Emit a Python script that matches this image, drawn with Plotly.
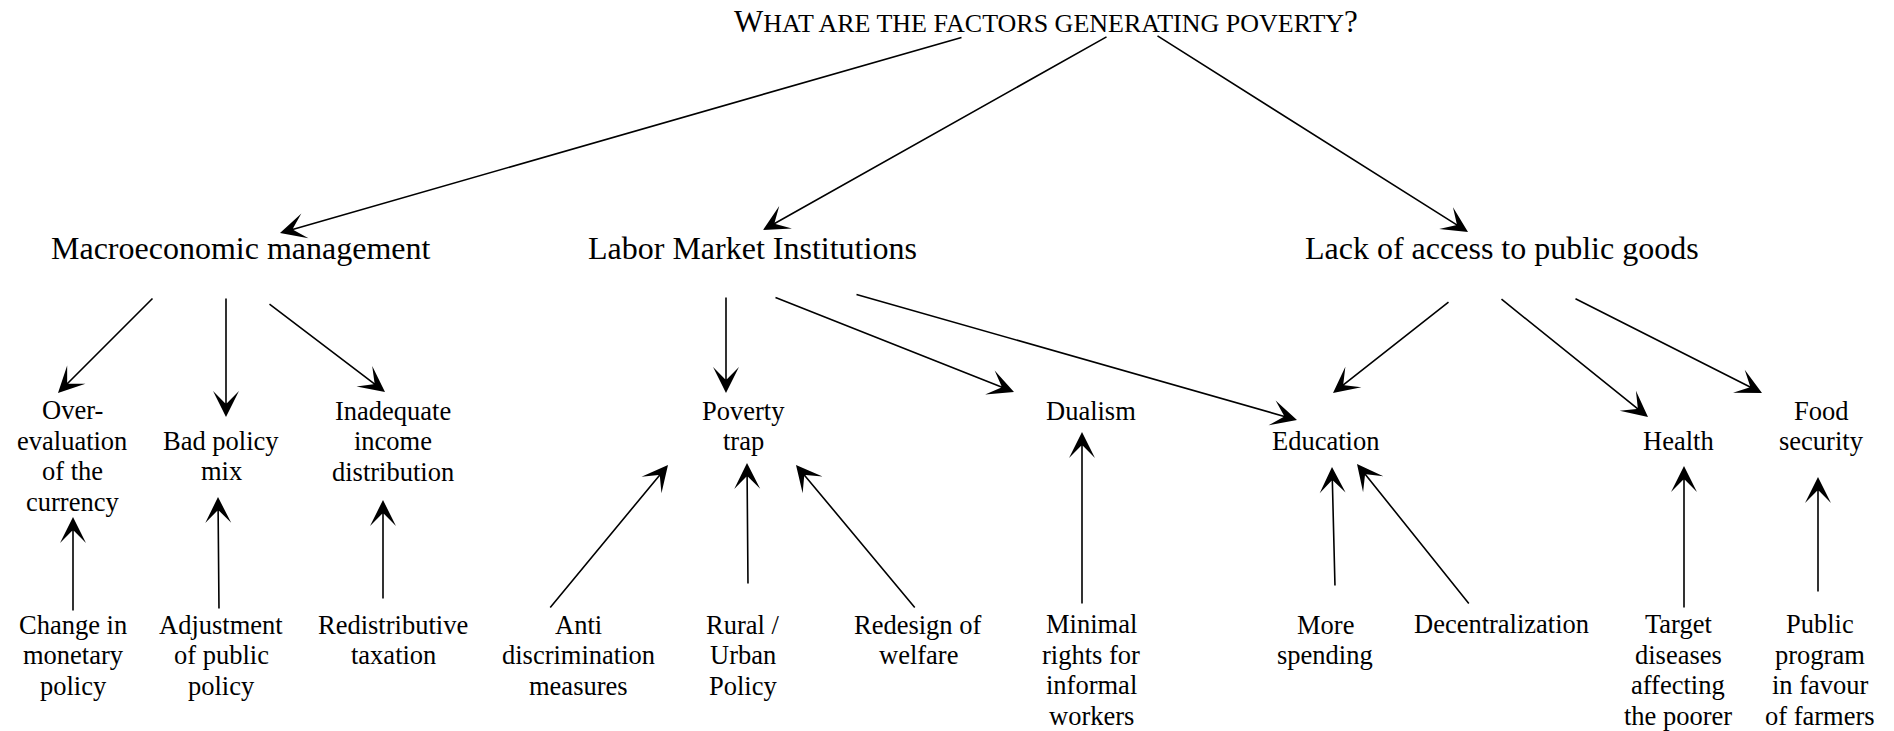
import plotly.graph_objects as go

W, H = 1894, 731

# ---- data: node labels (lines) ----
title_first = "W"
title_rest = "HAT ARE THE FACTORS GENERATING POVERTY"
title_last = "?"

level1_labels = ["Macroeconomic management", "Labor Market Institutions",
                 "Lack of access to public goods"]

level2_labels = [
    ["Over-", "evaluation", "of the", "currency"],
    ["Bad policy", "mix"],
    ["Inadequate", "income", "distribution"],
    ["Poverty", "trap"],
    ["Dualism"],
    ["Education"],
    ["Health"],
    ["Food", "security"],
]

level3_labels = [
    ["Change in", "monetary", "policy"],
    ["Adjustment", "of public", "policy"],
    ["Redistributive", "taxation"],
    ["Anti", "discrimination", "measures"],
    ["Rural /", "Urban", "Policy"],
    ["Redesign of", "welfare"],
    ["Minimal", "rights for", "informal", "workers"],
    ["More", "spending"],
    ["Decentralization"],
    ["Target", "diseases", "affecting", "the poorer"],
    ["Public", "program", "in favour", "of farmers"],
]

# ---- layout positions (pixel space of the drawing) ----
title_pos = (1046, 21)
level1_pos = [(241, 248), (752, 248), (1502, 248)]
level2_pos = [(72, 456), (221, 456), (393, 441), (743, 426), (1091, 411),
              (1325, 441), (1678, 441), (1821, 426)]
level3_pos = [(73, 655), (221, 655), (393, 640), (578, 655), (743, 655),
              (918, 640), (1091, 670), (1325, 640), (1501, 624), (1678, 670),
              (1820, 670)]

# edges: (tail_x, tail_y, head_x, head_y)
edges = [
    # title -> level 1
    (963, 37, 280, 233), (1108, 36, 763, 230), (1156, 35, 1468, 232),
    # macro -> level 2
    (154, 297, 58, 393), (226, 297, 226, 417), (268, 303, 385, 392),
    # labor -> level 2
    (726, 296, 726, 393), (774, 297, 1014, 392), (855, 294, 1297, 420),
    # public goods -> level 2
    (1450, 301, 1333, 393), (1500, 298, 1648, 417), (1574, 298, 1762, 393),
    # level 3 -> level 2
    (73, 612, 73, 517), (219, 610, 218, 497), (383, 600, 383, 500),
    (549, 609, 668, 465), (748, 585, 747, 463), (916, 609, 796, 465),
    (1082, 605, 1082, 432), (1335, 587, 1332, 467), (1470, 605, 1357, 464),
    (1684, 609, 1684, 466), (1818, 593, 1818, 477),
]

FONT = "Liberation Serif, Times New Roman, serif"
LS = 30.5  # line spacing for small labels

fig = go.Figure()
annotations = []

annotations.append(dict(
    x=title_pos[0], y=title_pos[1], xref="x", yref="y", showarrow=False,
    text=(title_first + "<span style='font-size:26px'>" + title_rest
          + "</span>" + title_last),
    font=dict(family=FONT, size=31, color="black"),
    xanchor="center", yanchor="middle"))

for lab, (cx, cy) in zip(level1_labels, level1_pos):
    annotations.append(dict(x=cx, y=cy, xref="x", yref="y", showarrow=False,
                            text=lab, font=dict(family=FONT, size=32, color="black"),
                            xanchor="center", yanchor="middle"))


def add_lines(lines, cx, cy, size):
    n = len(lines)
    for i, ln in enumerate(lines):
        annotations.append(dict(
            x=cx, y=cy + (i - (n - 1) / 2) * LS, xref="x", yref="y",
            showarrow=False, text=ln,
            font=dict(family=FONT, size=size, color="black"),
            xanchor="center", yanchor="middle"))


for lines, (cx, cy) in zip(level2_labels, level2_pos):
    add_lines(lines, cx, cy, 26.5)
for lines, (cx, cy) in zip(level3_labels, level3_pos):
    add_lines(lines, cx, cy, 26.5)

for (tx, ty, hx, hy) in edges:
    annotations.append(dict(
        x=hx, y=hy, ax=tx, ay=ty, xref="x", yref="y", axref="x", ayref="y",
        text="", showarrow=True, arrowhead=3, arrowsize=2.7, arrowwidth=1.6,
        arrowcolor="black", standoff=0, startstandoff=0))

fig.update_layout(
    width=W, height=H, margin=dict(l=0, r=0, t=0, b=0),
    paper_bgcolor="white", plot_bgcolor="white",
    xaxis=dict(range=[0, W], visible=False, fixedrange=True),
    yaxis=dict(range=[H, 0], visible=False, fixedrange=True),
    annotations=annotations, showlegend=False)

fig.write_html("out.html", config={"displayModeBar": False},
               post_script="document.body.style.margin='0px';"
                           "document.body.style.overflow='hidden';")
